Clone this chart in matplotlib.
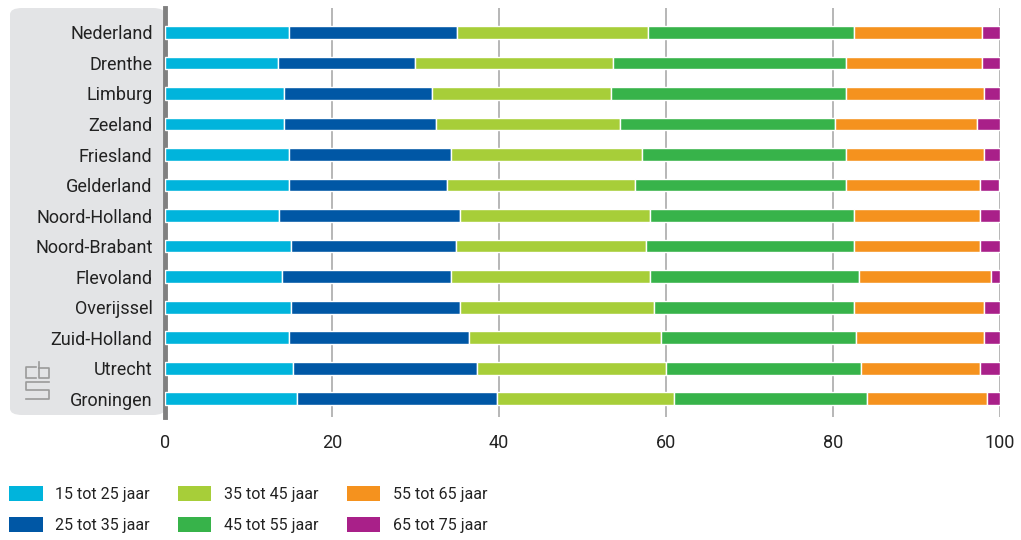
#!/usr/bin/env python3

import numpy as np
import matplotlib
matplotlib.use('Agg')
import matplotlib.pyplot as plt
from matplotlib.patches import FancyBboxPatch, Patch
from matplotlib.lines import Line2D

#------------------------------------------------------------------------

regions = ['Nederland', 'Drenthe', 'Limburg', 'Zeeland', 'Friesland',
           'Gelderland', 'Noord-Holland', 'Noord-Brabant', 'Flevoland',
           'Overijssel', 'Zuid-Holland', 'Utrecht', 'Groningen']

age_groups = ['15 tot 25 jaar', '25 tot 35 jaar', '35 tot 45 jaar',
              '45 tot 55 jaar', '55 tot 65 jaar', '65 tot 75 jaar']

age_15_25 = [14.8, 13.5, 14.3, 14.3, 14.8, 14.8, 13.7, 15.1, 14.0, 15.1, 14.8, 15.3, 15.8]
age_25_35 = [20.2, 16.4, 17.7, 18.2, 19.5, 19.0, 21.6, 19.7, 20.3, 20.2, 21.6, 22.1, 24.0]
age_35_45 = [22.8, 23.8, 21.4, 22.0, 22.8, 22.5, 22.8, 22.8, 23.8, 23.3, 23.0, 22.6, 21.2]
age_45_55 = [24.7, 27.8, 28.1, 25.7, 24.4, 25.2, 24.4, 24.9, 25.0, 23.9, 23.4, 23.3, 23.1]
age_55_65 = [15.3, 16.3, 16.6, 17.1, 16.6, 16.1, 15.1, 15.1, 15.8, 15.6, 15.3, 14.3, 14.3]
age_65_75 = [2.2, 2.2, 1.9, 2.7, 1.9, 2.3, 2.4, 2.4, 1.1, 1.9, 1.9, 2.4, 1.6]

series = [age_15_25, age_25_35, age_35_45, age_45_55, age_55_65, age_65_75]
colors = ['#00b4dc', '#0057a5', '#a7ce39', '#37b34a', '#f5921e', '#a92089']

#------------------------------------------------------------------------

W, H = 1021, 540
plt.rcParams['font.family'] = ['Roboto', 'DejaVu Sans']

fig = plt.figure(figsize=(W / 100, H / 100), dpi=100)

def fx(px):
    return px / W

def fy(py):
    return 1 - py / H

# grey panel behind the category labels
panel = FancyBboxPatch((fx(10), fy(415)), fx(165) - fx(10), fy(8) - fy(415),
                       boxstyle='round,pad=0,rounding_size=0.012',
                       transform=fig.transFigure, facecolor='#e3e4e6',
                       edgecolor='none', zorder=0)
fig.add_artist(panel)

ax = fig.add_axes([fx(165), fy(417), fx(1000) - fx(165), fy(8) - fy(417)])
ax.set_facecolor('none')
ax.set_axisbelow(True)

y = np.arange(len(regions))
left = np.zeros(len(regions))
for vals, col, lab in zip(series, colors, age_groups):
    ax.barh(y, vals, left=left, height=0.42, color=col, edgecolor='white',
            linewidth=1.0, label=lab, zorder=3)
    left = left + np.array(vals)

ax.set_xlim(0, 100)
ax.set_ylim(len(regions) - 0.4, -0.8)
ax.set_xticks([0, 20, 40, 60, 80, 100])
ax.set_yticks(y)
ax.set_yticklabels(regions)
ax.tick_params(axis='both', length=0, labelsize=13, colors='#222222')
ax.tick_params(axis='y', pad=9)
ax.tick_params(axis='x', pad=12)
ax.grid(axis='x', color='#aaaaaa', linewidth=1.2, zorder=1)
for s in ['top', 'right', 'bottom']:
    ax.spines[s].set_visible(False)
ax.spines['left'].set_color('#808080')
ax.spines['left'].set_linewidth(3.5)

# legend
handles = [Patch(facecolor=c, edgecolor='none', label=l) for c, l in zip(colors, age_groups)]
fig.legend(handles=handles, ncol=3, loc='upper left',
           bbox_to_anchor=(fx(9), fy(486)), frameon=False, fontsize=11.5,
           borderpad=0, borderaxespad=0,
           handlelength=2.1, handleheight=1.05, handletextpad=0.8,
           columnspacing=1.75, labelspacing=0.95, labelcolor='#222222')

# simple cbs logo
lc = '#9a9a9a'
def seg(xs, ys):
    fig.add_artist(Line2D([fx(v) for v in xs], [fy(v) for v in ys],
                          color=lc, linewidth=1.2, transform=fig.transFigure))
seg([36, 26, 26, 36], [367, 367, 378, 378])
seg([39, 39, 49, 49, 39], [362, 378, 378, 368, 368])
seg([49, 26, 26, 49, 49, 26], [382, 382, 390, 390, 399, 399])

fig.savefig('out.png', dpi=100)
